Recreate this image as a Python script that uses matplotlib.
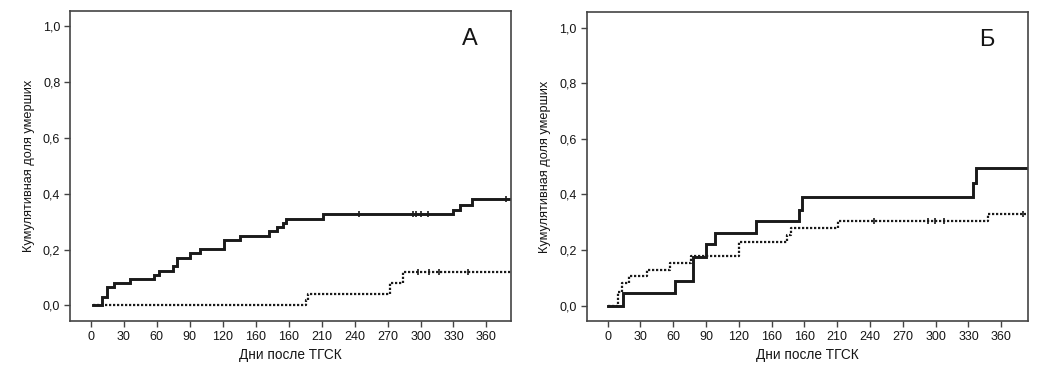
import matplotlib
matplotlib.use("Agg")
import matplotlib.pyplot as plt
import numpy as np

plt.rcParams['font.family'] = ['Liberation Sans', 'DejaVu Sans']

# Panel A
a_solid_t = [2, 10, 14.5, 21.5, 36, 57, 62, 75, 78, 90, 99, 121, 136, 162, 169, 175, 178, 211, 330, 336, 347, 381]
a_solid_y = [0.0, 0.031, 0.065, 0.08, 0.095, 0.11, 0.125, 0.14, 0.17, 0.187, 0.203, 0.235, 0.25, 0.265, 0.28, 0.296, 0.31, 0.327, 0.342, 0.36, 0.38, 0.38]
a_solid_cens = [244, 293, 296, 300, 307, 378]
a_dot_t = [2, 196, 198, 272, 284, 383]
a_dot_y = [0.0, 0.02, 0.04, 0.08, 0.12, 0.12]
a_dot_cens = [298, 308, 317, 343]

# Panel B
b_solid_t = [0, 14, 61.5, 77.7, 90, 98, 135.6, 175, 178, 334, 337, 383]
b_solid_y = [0.0, 0.045, 0.09, 0.175, 0.22, 0.26, 0.305, 0.345, 0.39, 0.44, 0.495, 0.495]
b_solid_cens = []
b_dot_t = [0, 10, 13, 20, 36, 57, 76, 120, 164, 168, 211, 348, 383]
b_dot_y = [0.0, 0.05, 0.08, 0.105, 0.128, 0.152, 0.178, 0.23, 0.255, 0.28, 0.305, 0.33, 0.33]
b_dot_cens = [244, 293, 299, 308, 380]

x_ticks = [0, 30, 60, 90, 120, 150, 180, 210, 240, 270, 300, 330, 360]
x_ticklabels = ['0', '30', '60', '90', '120', '160', '160', '210', '240', '270', '300', '330', '360']
y_ticks = [0.0, 0.2, 0.4, 0.6, 0.8, 1.0]
y_ticklabels = ['0,0', '0,2', '0,4', '0,6', '0,8', '1,0']

xlabel = 'Дни после ТГСК'
ylabel = 'Кумулятивная доля умерших'

fig = plt.figure(figsize=(10.4, 3.76), dpi=100)
axA = fig.add_axes([0.0673, 0.146, 0.4237, 0.825])
axB = fig.add_axes([0.564, 0.146, 0.424, 0.821])

col = '#1a1a1a'
tcol = '#151515'

def cens_y(t, ts, ys):
    idx = np.searchsorted(ts, t, side='right') - 1
    return ys[max(idx, 0)]

def draw(ax, st, sy, sc, dt, dy, dc, letter, xlim):
    ax.step(st, sy, where='post', color=col, lw=2.1, solid_joinstyle='miter')
    ax.step(dt, dy, where='post', color=col, lw=1.6, linestyle=(0, (1.0, 0.8)))
    if sc:
        ax.plot(sc, [cens_y(t, st, sy) for t in sc], linestyle='none', marker='|', ms=5, mew=1.2, color=col)
    if dc:
        ax.plot(dc, [cens_y(t, dt, dy) for t in dc], linestyle='none', marker='|', ms=5, mew=1.2, color=col)
    ax.set_xlim(*xlim)
    ax.set_ylim(-0.056, 1.055)
    ax.set_xticks(x_ticks)
    ax.set_xticklabels(x_ticklabels, fontsize=9, color=tcol)
    ax.set_yticks(y_ticks)
    ax.set_yticklabels(y_ticklabels, fontsize=9, color=tcol)
    ax.set_xlabel(xlabel, fontsize=9.8, color=tcol, labelpad=4)
    ax.set_ylabel(ylabel, fontsize=9.2, color=tcol, labelpad=6)
    ax.tick_params(direction='out', length=4, width=1, color='#444444', pad=3)
    for s in ax.spines.values():
        s.set_color('#444444')
        s.set_linewidth(1.2)
    ax.text(0.908, 0.91, letter, transform=ax.transAxes, fontsize=17, color=tcol,
            ha='center', va='center')

draw(axA, a_solid_t, a_solid_y, a_solid_cens, a_dot_t, a_dot_y, a_dot_cens, 'А', (-19, 382))
draw(axB, b_solid_t, b_solid_y, b_solid_cens, b_dot_t, b_dot_y, b_dot_cens, 'Б', (-19.2, 384))

fig.savefig('out.png', dpi=100)
